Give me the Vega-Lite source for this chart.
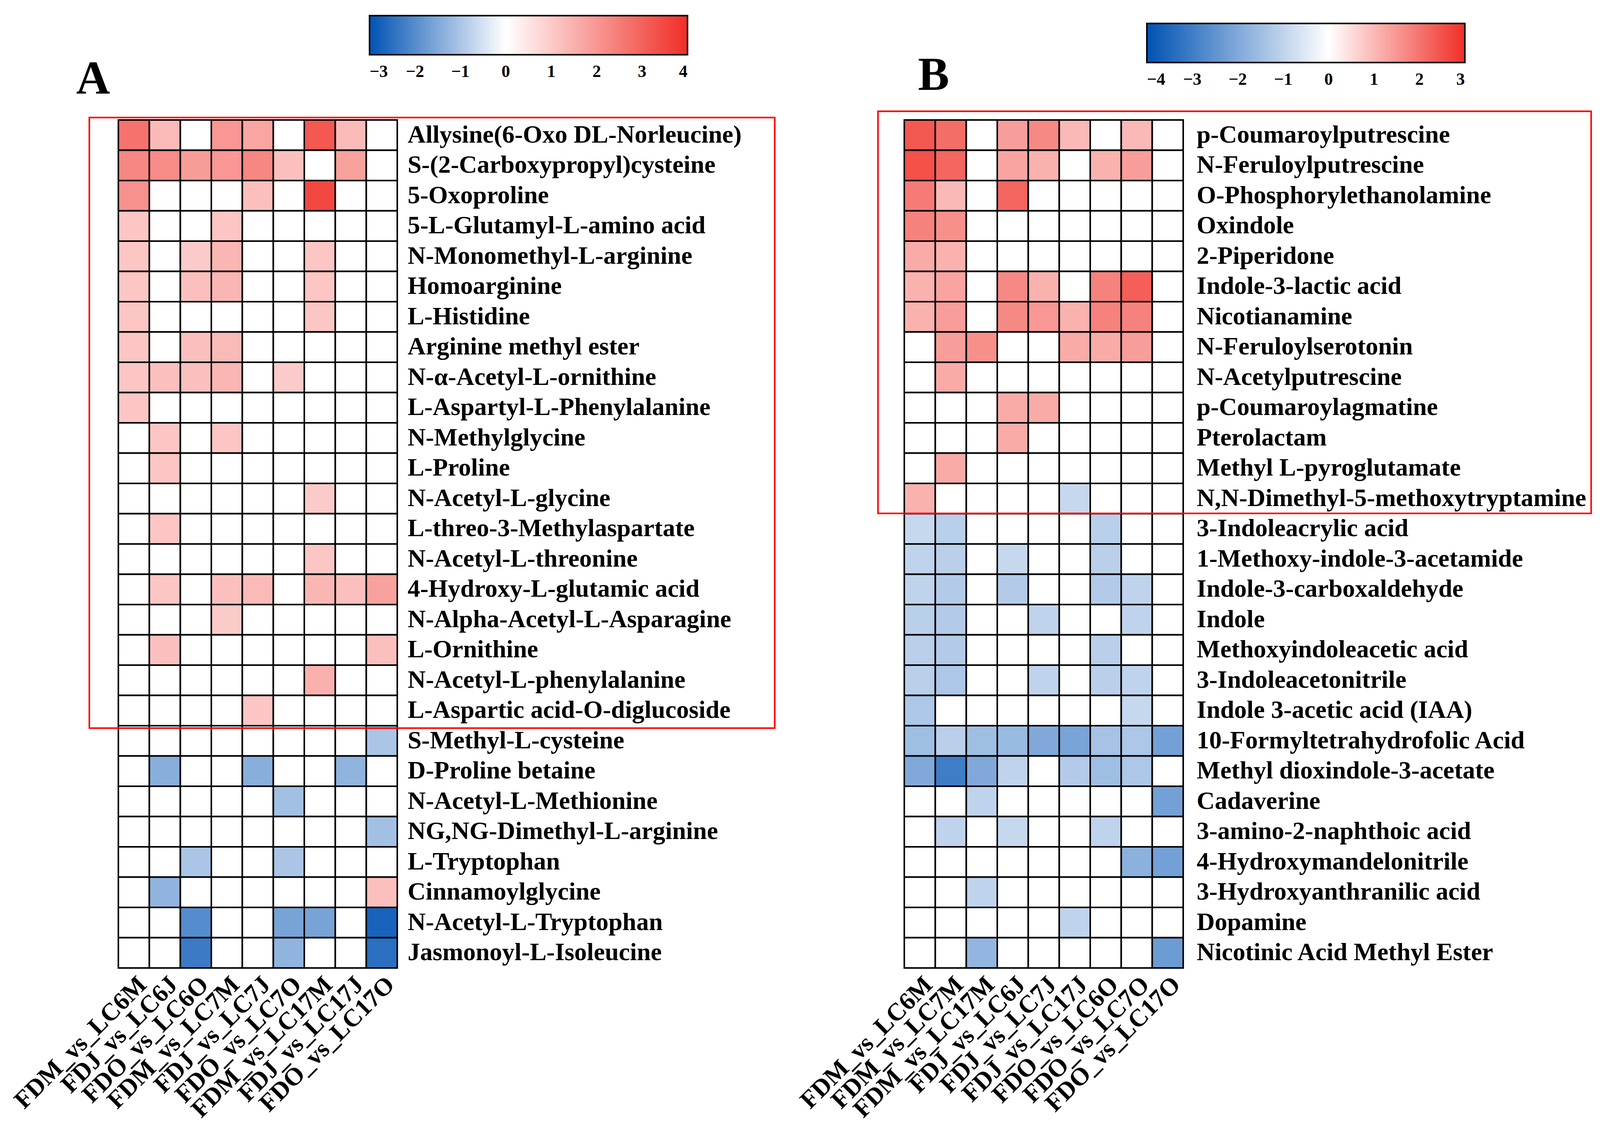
{
"$schema": "https://vega.github.io/schema/vega-lite/v6.json",
"background": "white",
"padding": {"left": 25, "top": 40, "right": 5, "bottom": 5},
"config": {"view": {"stroke": null}, "font": "Liberation Serif"},
"datasets": {
"a": [
{"m":"Allysine(6-Oxo DL-Norleucine)","c":"FDM_vs_LC6M","v":2.7},{"m":"Allysine(6-Oxo DL-Norleucine)","c":"FDJ_vs_LC6J","v":1.3},{"m":"Allysine(6-Oxo DL-Norleucine)","c":"FDO_vs_LC6O","v":0},{"m":"Allysine(6-Oxo DL-Norleucine)","c":"FDM_vs_LC7M","v":2.0},{"m":"Allysine(6-Oxo DL-Norleucine)","c":"FDJ_vs_LC7J","v":1.7},{"m":"Allysine(6-Oxo DL-Norleucine)","c":"FDO_vs_LC7O","v":0},{"m":"Allysine(6-Oxo DL-Norleucine)","c":"FDM_vs_LC17M","v":3.2},{"m":"Allysine(6-Oxo DL-Norleucine)","c":"FDJ_vs_LC17J","v":1.3},{"m":"Allysine(6-Oxo DL-Norleucine)","c":"FDO_vs_LC17O","v":0},
{"m":"S-(2-Carboxypropyl)cysteine","c":"FDM_vs_LC6M","v":2.3},{"m":"S-(2-Carboxypropyl)cysteine","c":"FDJ_vs_LC6J","v":2.2},{"m":"S-(2-Carboxypropyl)cysteine","c":"FDO_vs_LC6O","v":1.9},{"m":"S-(2-Carboxypropyl)cysteine","c":"FDM_vs_LC7M","v":2.0},{"m":"S-(2-Carboxypropyl)cysteine","c":"FDJ_vs_LC7J","v":2.3},{"m":"S-(2-Carboxypropyl)cysteine","c":"FDO_vs_LC7O","v":1.2},{"m":"S-(2-Carboxypropyl)cysteine","c":"FDM_vs_LC17M","v":0},{"m":"S-(2-Carboxypropyl)cysteine","c":"FDJ_vs_LC17J","v":1.8},{"m":"S-(2-Carboxypropyl)cysteine","c":"FDO_vs_LC17O","v":0},
{"m":"5-Oxoproline","c":"FDM_vs_LC6M","v":2.1},{"m":"5-Oxoproline","c":"FDJ_vs_LC6J","v":0},{"m":"5-Oxoproline","c":"FDO_vs_LC6O","v":0},{"m":"5-Oxoproline","c":"FDM_vs_LC7M","v":0},{"m":"5-Oxoproline","c":"FDJ_vs_LC7J","v":1.2},{"m":"5-Oxoproline","c":"FDO_vs_LC7O","v":0},{"m":"5-Oxoproline","c":"FDM_vs_LC17M","v":3.5},{"m":"5-Oxoproline","c":"FDJ_vs_LC17J","v":0},{"m":"5-Oxoproline","c":"FDO_vs_LC17O","v":0},
{"m":"5-L-Glutamyl-L-amino acid","c":"FDM_vs_LC6M","v":1.1},{"m":"5-L-Glutamyl-L-amino acid","c":"FDJ_vs_LC6J","v":0},{"m":"5-L-Glutamyl-L-amino acid","c":"FDO_vs_LC6O","v":0},{"m":"5-L-Glutamyl-L-amino acid","c":"FDM_vs_LC7M","v":1.1},{"m":"5-L-Glutamyl-L-amino acid","c":"FDJ_vs_LC7J","v":0},{"m":"5-L-Glutamyl-L-amino acid","c":"FDO_vs_LC7O","v":0},{"m":"5-L-Glutamyl-L-amino acid","c":"FDM_vs_LC17M","v":0},{"m":"5-L-Glutamyl-L-amino acid","c":"FDJ_vs_LC17J","v":0},{"m":"5-L-Glutamyl-L-amino acid","c":"FDO_vs_LC17O","v":0},
{"m":"N-Monomethyl-L-arginine","c":"FDM_vs_LC6M","v":1.1},{"m":"N-Monomethyl-L-arginine","c":"FDJ_vs_LC6J","v":0},{"m":"N-Monomethyl-L-arginine","c":"FDO_vs_LC6O","v":1.0},{"m":"N-Monomethyl-L-arginine","c":"FDM_vs_LC7M","v":1.4},{"m":"N-Monomethyl-L-arginine","c":"FDJ_vs_LC7J","v":0},{"m":"N-Monomethyl-L-arginine","c":"FDO_vs_LC7O","v":0},{"m":"N-Monomethyl-L-arginine","c":"FDM_vs_LC17M","v":1.1},{"m":"N-Monomethyl-L-arginine","c":"FDJ_vs_LC17J","v":0},{"m":"N-Monomethyl-L-arginine","c":"FDO_vs_LC17O","v":0},
{"m":"Homoarginine","c":"FDM_vs_LC6M","v":1.1},{"m":"Homoarginine","c":"FDJ_vs_LC6J","v":0},{"m":"Homoarginine","c":"FDO_vs_LC6O","v":1.2},{"m":"Homoarginine","c":"FDM_vs_LC7M","v":1.4},{"m":"Homoarginine","c":"FDJ_vs_LC7J","v":0},{"m":"Homoarginine","c":"FDO_vs_LC7O","v":0},{"m":"Homoarginine","c":"FDM_vs_LC17M","v":1.1},{"m":"Homoarginine","c":"FDJ_vs_LC17J","v":0},{"m":"Homoarginine","c":"FDO_vs_LC17O","v":0},
{"m":"L-Histidine","c":"FDM_vs_LC6M","v":1.1},{"m":"L-Histidine","c":"FDJ_vs_LC6J","v":0},{"m":"L-Histidine","c":"FDO_vs_LC6O","v":0},{"m":"L-Histidine","c":"FDM_vs_LC7M","v":0},{"m":"L-Histidine","c":"FDJ_vs_LC7J","v":0},{"m":"L-Histidine","c":"FDO_vs_LC7O","v":0},{"m":"L-Histidine","c":"FDM_vs_LC17M","v":1.1},{"m":"L-Histidine","c":"FDJ_vs_LC17J","v":0},{"m":"L-Histidine","c":"FDO_vs_LC17O","v":0},
{"m":"Arginine methyl ester","c":"FDM_vs_LC6M","v":1.1},{"m":"Arginine methyl ester","c":"FDJ_vs_LC6J","v":0},{"m":"Arginine methyl ester","c":"FDO_vs_LC6O","v":1.2},{"m":"Arginine methyl ester","c":"FDM_vs_LC7M","v":1.3},{"m":"Arginine methyl ester","c":"FDJ_vs_LC7J","v":0},{"m":"Arginine methyl ester","c":"FDO_vs_LC7O","v":0},{"m":"Arginine methyl ester","c":"FDM_vs_LC17M","v":0},{"m":"Arginine methyl ester","c":"FDJ_vs_LC17J","v":0},{"m":"Arginine methyl ester","c":"FDO_vs_LC17O","v":0},
{"m":"N-α-Acetyl-L-ornithine","c":"FDM_vs_LC6M","v":1.1},{"m":"N-α-Acetyl-L-ornithine","c":"FDJ_vs_LC6J","v":1.2},{"m":"N-α-Acetyl-L-ornithine","c":"FDO_vs_LC6O","v":1.2},{"m":"N-α-Acetyl-L-ornithine","c":"FDM_vs_LC7M","v":1.4},{"m":"N-α-Acetyl-L-ornithine","c":"FDJ_vs_LC7J","v":0},{"m":"N-α-Acetyl-L-ornithine","c":"FDO_vs_LC7O","v":1.0},{"m":"N-α-Acetyl-L-ornithine","c":"FDM_vs_LC17M","v":0},{"m":"N-α-Acetyl-L-ornithine","c":"FDJ_vs_LC17J","v":0},{"m":"N-α-Acetyl-L-ornithine","c":"FDO_vs_LC17O","v":0},
{"m":"L-Aspartyl-L-Phenylalanine","c":"FDM_vs_LC6M","v":1.1},{"m":"L-Aspartyl-L-Phenylalanine","c":"FDJ_vs_LC6J","v":0},{"m":"L-Aspartyl-L-Phenylalanine","c":"FDO_vs_LC6O","v":0},{"m":"L-Aspartyl-L-Phenylalanine","c":"FDM_vs_LC7M","v":0},{"m":"L-Aspartyl-L-Phenylalanine","c":"FDJ_vs_LC7J","v":0},{"m":"L-Aspartyl-L-Phenylalanine","c":"FDO_vs_LC7O","v":0},{"m":"L-Aspartyl-L-Phenylalanine","c":"FDM_vs_LC17M","v":0},{"m":"L-Aspartyl-L-Phenylalanine","c":"FDJ_vs_LC17J","v":0},{"m":"L-Aspartyl-L-Phenylalanine","c":"FDO_vs_LC17O","v":0},
{"m":"N-Methylglycine","c":"FDM_vs_LC6M","v":0},{"m":"N-Methylglycine","c":"FDJ_vs_LC6J","v":1.1},{"m":"N-Methylglycine","c":"FDO_vs_LC6O","v":0},{"m":"N-Methylglycine","c":"FDM_vs_LC7M","v":1.1},{"m":"N-Methylglycine","c":"FDJ_vs_LC7J","v":0},{"m":"N-Methylglycine","c":"FDO_vs_LC7O","v":0},{"m":"N-Methylglycine","c":"FDM_vs_LC17M","v":0},{"m":"N-Methylglycine","c":"FDJ_vs_LC17J","v":0},{"m":"N-Methylglycine","c":"FDO_vs_LC17O","v":0},
{"m":"L-Proline","c":"FDM_vs_LC6M","v":0},{"m":"L-Proline","c":"FDJ_vs_LC6J","v":1.1},{"m":"L-Proline","c":"FDO_vs_LC6O","v":0},{"m":"L-Proline","c":"FDM_vs_LC7M","v":0},{"m":"L-Proline","c":"FDJ_vs_LC7J","v":0},{"m":"L-Proline","c":"FDO_vs_LC7O","v":0},{"m":"L-Proline","c":"FDM_vs_LC17M","v":0},{"m":"L-Proline","c":"FDJ_vs_LC17J","v":0},{"m":"L-Proline","c":"FDO_vs_LC17O","v":0},
{"m":"N-Acetyl-L-glycine","c":"FDM_vs_LC6M","v":0},{"m":"N-Acetyl-L-glycine","c":"FDJ_vs_LC6J","v":0},{"m":"N-Acetyl-L-glycine","c":"FDO_vs_LC6O","v":0},{"m":"N-Acetyl-L-glycine","c":"FDM_vs_LC7M","v":0},{"m":"N-Acetyl-L-glycine","c":"FDJ_vs_LC7J","v":0},{"m":"N-Acetyl-L-glycine","c":"FDO_vs_LC7O","v":0},{"m":"N-Acetyl-L-glycine","c":"FDM_vs_LC17M","v":1.0},{"m":"N-Acetyl-L-glycine","c":"FDJ_vs_LC17J","v":0},{"m":"N-Acetyl-L-glycine","c":"FDO_vs_LC17O","v":0},
{"m":"L-threo-3-Methylaspartate","c":"FDM_vs_LC6M","v":0},{"m":"L-threo-3-Methylaspartate","c":"FDJ_vs_LC6J","v":1.1},{"m":"L-threo-3-Methylaspartate","c":"FDO_vs_LC6O","v":0},{"m":"L-threo-3-Methylaspartate","c":"FDM_vs_LC7M","v":0},{"m":"L-threo-3-Methylaspartate","c":"FDJ_vs_LC7J","v":0},{"m":"L-threo-3-Methylaspartate","c":"FDO_vs_LC7O","v":0},{"m":"L-threo-3-Methylaspartate","c":"FDM_vs_LC17M","v":0},{"m":"L-threo-3-Methylaspartate","c":"FDJ_vs_LC17J","v":0},{"m":"L-threo-3-Methylaspartate","c":"FDO_vs_LC17O","v":0},
{"m":"N-Acetyl-L-threonine","c":"FDM_vs_LC6M","v":0},{"m":"N-Acetyl-L-threonine","c":"FDJ_vs_LC6J","v":0},{"m":"N-Acetyl-L-threonine","c":"FDO_vs_LC6O","v":0},{"m":"N-Acetyl-L-threonine","c":"FDM_vs_LC7M","v":0},{"m":"N-Acetyl-L-threonine","c":"FDJ_vs_LC7J","v":0},{"m":"N-Acetyl-L-threonine","c":"FDO_vs_LC7O","v":0},{"m":"N-Acetyl-L-threonine","c":"FDM_vs_LC17M","v":1.1},{"m":"N-Acetyl-L-threonine","c":"FDJ_vs_LC17J","v":0},{"m":"N-Acetyl-L-threonine","c":"FDO_vs_LC17O","v":0},
{"m":"4-Hydroxy-L-glutamic acid","c":"FDM_vs_LC6M","v":0},{"m":"4-Hydroxy-L-glutamic acid","c":"FDJ_vs_LC6J","v":1.1},{"m":"4-Hydroxy-L-glutamic acid","c":"FDO_vs_LC6O","v":0},{"m":"4-Hydroxy-L-glutamic acid","c":"FDM_vs_LC7M","v":1.2},{"m":"4-Hydroxy-L-glutamic acid","c":"FDJ_vs_LC7J","v":1.3},{"m":"4-Hydroxy-L-glutamic acid","c":"FDO_vs_LC7O","v":0},{"m":"4-Hydroxy-L-glutamic acid","c":"FDM_vs_LC17M","v":1.4},{"m":"4-Hydroxy-L-glutamic acid","c":"FDJ_vs_LC17J","v":1.2},{"m":"4-Hydroxy-L-glutamic acid","c":"FDO_vs_LC17O","v":1.8},
{"m":"N-Alpha-Acetyl-L-Asparagine","c":"FDM_vs_LC6M","v":0},{"m":"N-Alpha-Acetyl-L-Asparagine","c":"FDJ_vs_LC6J","v":0},{"m":"N-Alpha-Acetyl-L-Asparagine","c":"FDO_vs_LC6O","v":0},{"m":"N-Alpha-Acetyl-L-Asparagine","c":"FDM_vs_LC7M","v":1.0},{"m":"N-Alpha-Acetyl-L-Asparagine","c":"FDJ_vs_LC7J","v":0},{"m":"N-Alpha-Acetyl-L-Asparagine","c":"FDO_vs_LC7O","v":0},{"m":"N-Alpha-Acetyl-L-Asparagine","c":"FDM_vs_LC17M","v":0},{"m":"N-Alpha-Acetyl-L-Asparagine","c":"FDJ_vs_LC17J","v":0},{"m":"N-Alpha-Acetyl-L-Asparagine","c":"FDO_vs_LC17O","v":0},
{"m":"L-Ornithine","c":"FDM_vs_LC6M","v":0},{"m":"L-Ornithine","c":"FDJ_vs_LC6J","v":1.2},{"m":"L-Ornithine","c":"FDO_vs_LC6O","v":0},{"m":"L-Ornithine","c":"FDM_vs_LC7M","v":0},{"m":"L-Ornithine","c":"FDJ_vs_LC7J","v":0},{"m":"L-Ornithine","c":"FDO_vs_LC7O","v":0},{"m":"L-Ornithine","c":"FDM_vs_LC17M","v":0},{"m":"L-Ornithine","c":"FDJ_vs_LC17J","v":0},{"m":"L-Ornithine","c":"FDO_vs_LC17O","v":1.2},
{"m":"N-Acetyl-L-phenylalanine","c":"FDM_vs_LC6M","v":0},{"m":"N-Acetyl-L-phenylalanine","c":"FDJ_vs_LC6J","v":0},{"m":"N-Acetyl-L-phenylalanine","c":"FDO_vs_LC6O","v":0},{"m":"N-Acetyl-L-phenylalanine","c":"FDM_vs_LC7M","v":0},{"m":"N-Acetyl-L-phenylalanine","c":"FDJ_vs_LC7J","v":0},{"m":"N-Acetyl-L-phenylalanine","c":"FDO_vs_LC7O","v":0},{"m":"N-Acetyl-L-phenylalanine","c":"FDM_vs_LC17M","v":1.5},{"m":"N-Acetyl-L-phenylalanine","c":"FDJ_vs_LC17J","v":0},{"m":"N-Acetyl-L-phenylalanine","c":"FDO_vs_LC17O","v":0},
{"m":"L-Aspartic acid-O-diglucoside","c":"FDM_vs_LC6M","v":0},{"m":"L-Aspartic acid-O-diglucoside","c":"FDJ_vs_LC6J","v":0},{"m":"L-Aspartic acid-O-diglucoside","c":"FDO_vs_LC6O","v":0},{"m":"L-Aspartic acid-O-diglucoside","c":"FDM_vs_LC7M","v":0},{"m":"L-Aspartic acid-O-diglucoside","c":"FDJ_vs_LC7J","v":1.1},{"m":"L-Aspartic acid-O-diglucoside","c":"FDO_vs_LC7O","v":0},{"m":"L-Aspartic acid-O-diglucoside","c":"FDM_vs_LC17M","v":0},{"m":"L-Aspartic acid-O-diglucoside","c":"FDJ_vs_LC17J","v":0},{"m":"L-Aspartic acid-O-diglucoside","c":"FDO_vs_LC17O","v":0},
{"m":"S-Methyl-L-cysteine","c":"FDM_vs_LC6M","v":0},{"m":"S-Methyl-L-cysteine","c":"FDJ_vs_LC6J","v":0},{"m":"S-Methyl-L-cysteine","c":"FDO_vs_LC6O","v":0},{"m":"S-Methyl-L-cysteine","c":"FDM_vs_LC7M","v":0},{"m":"S-Methyl-L-cysteine","c":"FDJ_vs_LC7J","v":0},{"m":"S-Methyl-L-cysteine","c":"FDO_vs_LC7O","v":0},{"m":"S-Methyl-L-cysteine","c":"FDM_vs_LC17M","v":0},{"m":"S-Methyl-L-cysteine","c":"FDJ_vs_LC17J","v":0},{"m":"S-Methyl-L-cysteine","c":"FDO_vs_LC17O","v":-1.0},
{"m":"D-Proline betaine","c":"FDM_vs_LC6M","v":0},{"m":"D-Proline betaine","c":"FDJ_vs_LC6J","v":-1.4},{"m":"D-Proline betaine","c":"FDO_vs_LC6O","v":0},{"m":"D-Proline betaine","c":"FDM_vs_LC7M","v":0},{"m":"D-Proline betaine","c":"FDJ_vs_LC7J","v":-1.4},{"m":"D-Proline betaine","c":"FDO_vs_LC7O","v":0},{"m":"D-Proline betaine","c":"FDM_vs_LC17M","v":0},{"m":"D-Proline betaine","c":"FDJ_vs_LC17J","v":-1.3},{"m":"D-Proline betaine","c":"FDO_vs_LC17O","v":0},
{"m":"N-Acetyl-L-Methionine","c":"FDM_vs_LC6M","v":0},{"m":"N-Acetyl-L-Methionine","c":"FDJ_vs_LC6J","v":0},{"m":"N-Acetyl-L-Methionine","c":"FDO_vs_LC6O","v":0},{"m":"N-Acetyl-L-Methionine","c":"FDM_vs_LC7M","v":0},{"m":"N-Acetyl-L-Methionine","c":"FDJ_vs_LC7J","v":0},{"m":"N-Acetyl-L-Methionine","c":"FDO_vs_LC7O","v":-1.1},{"m":"N-Acetyl-L-Methionine","c":"FDM_vs_LC17M","v":0},{"m":"N-Acetyl-L-Methionine","c":"FDJ_vs_LC17J","v":0},{"m":"N-Acetyl-L-Methionine","c":"FDO_vs_LC17O","v":0},
{"m":"NG,NG-Dimethyl-L-arginine","c":"FDM_vs_LC6M","v":0},{"m":"NG,NG-Dimethyl-L-arginine","c":"FDJ_vs_LC6J","v":0},{"m":"NG,NG-Dimethyl-L-arginine","c":"FDO_vs_LC6O","v":0},{"m":"NG,NG-Dimethyl-L-arginine","c":"FDM_vs_LC7M","v":0},{"m":"NG,NG-Dimethyl-L-arginine","c":"FDJ_vs_LC7J","v":0},{"m":"NG,NG-Dimethyl-L-arginine","c":"FDO_vs_LC7O","v":0},{"m":"NG,NG-Dimethyl-L-arginine","c":"FDM_vs_LC17M","v":0},{"m":"NG,NG-Dimethyl-L-arginine","c":"FDJ_vs_LC17J","v":0},{"m":"NG,NG-Dimethyl-L-arginine","c":"FDO_vs_LC17O","v":-1.1},
{"m":"L-Tryptophan","c":"FDM_vs_LC6M","v":0},{"m":"L-Tryptophan","c":"FDJ_vs_LC6J","v":0},{"m":"L-Tryptophan","c":"FDO_vs_LC6O","v":-1.0},{"m":"L-Tryptophan","c":"FDM_vs_LC7M","v":0},{"m":"L-Tryptophan","c":"FDJ_vs_LC7J","v":0},{"m":"L-Tryptophan","c":"FDO_vs_LC7O","v":-1.0},{"m":"L-Tryptophan","c":"FDM_vs_LC17M","v":0},{"m":"L-Tryptophan","c":"FDJ_vs_LC17J","v":0},{"m":"L-Tryptophan","c":"FDO_vs_LC17O","v":0},
{"m":"Cinnamoylglycine","c":"FDM_vs_LC6M","v":0},{"m":"Cinnamoylglycine","c":"FDJ_vs_LC6J","v":-1.3},{"m":"Cinnamoylglycine","c":"FDO_vs_LC6O","v":0},{"m":"Cinnamoylglycine","c":"FDM_vs_LC7M","v":0},{"m":"Cinnamoylglycine","c":"FDJ_vs_LC7J","v":0},{"m":"Cinnamoylglycine","c":"FDO_vs_LC7O","v":0},{"m":"Cinnamoylglycine","c":"FDM_vs_LC17M","v":0},{"m":"Cinnamoylglycine","c":"FDJ_vs_LC17J","v":0},{"m":"Cinnamoylglycine","c":"FDO_vs_LC17O","v":1.2},
{"m":"N-Acetyl-L-Tryptophan","c":"FDM_vs_LC6M","v":0},{"m":"N-Acetyl-L-Tryptophan","c":"FDJ_vs_LC6J","v":0},{"m":"N-Acetyl-L-Tryptophan","c":"FDO_vs_LC6O","v":-2.0},{"m":"N-Acetyl-L-Tryptophan","c":"FDM_vs_LC7M","v":0},{"m":"N-Acetyl-L-Tryptophan","c":"FDJ_vs_LC7J","v":0},{"m":"N-Acetyl-L-Tryptophan","c":"FDO_vs_LC7O","v":-1.6},{"m":"N-Acetyl-L-Tryptophan","c":"FDM_vs_LC17M","v":-1.6},{"m":"N-Acetyl-L-Tryptophan","c":"FDJ_vs_LC17J","v":0},{"m":"N-Acetyl-L-Tryptophan","c":"FDO_vs_LC17O","v":-2.7},
{"m":"Jasmonoyl-L-Isoleucine","c":"FDM_vs_LC6M","v":0},{"m":"Jasmonoyl-L-Isoleucine","c":"FDJ_vs_LC6J","v":0},{"m":"Jasmonoyl-L-Isoleucine","c":"FDO_vs_LC6O","v":-2.3},{"m":"Jasmonoyl-L-Isoleucine","c":"FDM_vs_LC7M","v":0},{"m":"Jasmonoyl-L-Isoleucine","c":"FDJ_vs_LC7J","v":0},{"m":"Jasmonoyl-L-Isoleucine","c":"FDO_vs_LC7O","v":-1.3},{"m":"Jasmonoyl-L-Isoleucine","c":"FDM_vs_LC17M","v":0},{"m":"Jasmonoyl-L-Isoleucine","c":"FDJ_vs_LC17J","v":0},{"m":"Jasmonoyl-L-Isoleucine","c":"FDO_vs_LC17O","v":-2.5}
],
"b": [
{"m":"p-Coumaroylputrescine","c":"FDM_vs_LC6M","v":2.4},{"m":"p-Coumaroylputrescine","c":"FDM_vs_LC7M","v":2.1},{"m":"p-Coumaroylputrescine","c":"FDM_vs_LC17M","v":0},{"m":"p-Coumaroylputrescine","c":"FDJ_vs_LC6J","v":1.4},{"m":"p-Coumaroylputrescine","c":"FDJ_vs_LC7J","v":1.7},{"m":"p-Coumaroylputrescine","c":"FDJ_vs_LC17J","v":1.0},{"m":"p-Coumaroylputrescine","c":"FDO_vs_LC6O","v":0},{"m":"p-Coumaroylputrescine","c":"FDO_vs_LC7O","v":1.0},{"m":"p-Coumaroylputrescine","c":"FDO_vs_LC17O","v":0},
{"m":"N-Feruloylputrescine","c":"FDM_vs_LC6M","v":2.5},{"m":"N-Feruloylputrescine","c":"FDM_vs_LC7M","v":2.2},{"m":"N-Feruloylputrescine","c":"FDM_vs_LC17M","v":0},{"m":"N-Feruloylputrescine","c":"FDJ_vs_LC6J","v":1.3},{"m":"N-Feruloylputrescine","c":"FDJ_vs_LC7J","v":1.1},{"m":"N-Feruloylputrescine","c":"FDJ_vs_LC17J","v":0},{"m":"N-Feruloylputrescine","c":"FDO_vs_LC6O","v":1.1},{"m":"N-Feruloylputrescine","c":"FDO_vs_LC7O","v":1.4},{"m":"N-Feruloylputrescine","c":"FDO_vs_LC17O","v":0},
{"m":"O-Phosphorylethanolamine","c":"FDM_vs_LC6M","v":1.9},{"m":"O-Phosphorylethanolamine","c":"FDM_vs_LC7M","v":1.0},{"m":"O-Phosphorylethanolamine","c":"FDM_vs_LC17M","v":0},{"m":"O-Phosphorylethanolamine","c":"FDJ_vs_LC6J","v":2.2},{"m":"O-Phosphorylethanolamine","c":"FDJ_vs_LC7J","v":0},{"m":"O-Phosphorylethanolamine","c":"FDJ_vs_LC17J","v":0},{"m":"O-Phosphorylethanolamine","c":"FDO_vs_LC6O","v":0},{"m":"O-Phosphorylethanolamine","c":"FDO_vs_LC7O","v":0},{"m":"O-Phosphorylethanolamine","c":"FDO_vs_LC17O","v":0},
{"m":"Oxindole","c":"FDM_vs_LC6M","v":1.8},{"m":"Oxindole","c":"FDM_vs_LC7M","v":1.6},{"m":"Oxindole","c":"FDM_vs_LC17M","v":0},{"m":"Oxindole","c":"FDJ_vs_LC6J","v":0},{"m":"Oxindole","c":"FDJ_vs_LC7J","v":0},{"m":"Oxindole","c":"FDJ_vs_LC17J","v":0},{"m":"Oxindole","c":"FDO_vs_LC6O","v":0},{"m":"Oxindole","c":"FDO_vs_LC7O","v":0},{"m":"Oxindole","c":"FDO_vs_LC17O","v":0},
{"m":"2-Piperidone","c":"FDM_vs_LC6M","v":1.2},{"m":"2-Piperidone","c":"FDM_vs_LC7M","v":1.1},{"m":"2-Piperidone","c":"FDM_vs_LC17M","v":0},{"m":"2-Piperidone","c":"FDJ_vs_LC6J","v":0},{"m":"2-Piperidone","c":"FDJ_vs_LC7J","v":0},{"m":"2-Piperidone","c":"FDJ_vs_LC17J","v":0},{"m":"2-Piperidone","c":"FDO_vs_LC6O","v":0},{"m":"2-Piperidone","c":"FDO_vs_LC7O","v":0},{"m":"2-Piperidone","c":"FDO_vs_LC17O","v":0},
{"m":"Indole-3-lactic acid","c":"FDM_vs_LC6M","v":1.1},{"m":"Indole-3-lactic acid","c":"FDM_vs_LC7M","v":1.3},{"m":"Indole-3-lactic acid","c":"FDM_vs_LC17M","v":0},{"m":"Indole-3-lactic acid","c":"FDJ_vs_LC6J","v":1.7},{"m":"Indole-3-lactic acid","c":"FDJ_vs_LC7J","v":1.1},{"m":"Indole-3-lactic acid","c":"FDJ_vs_LC17J","v":0},{"m":"Indole-3-lactic acid","c":"FDO_vs_LC6O","v":1.8},{"m":"Indole-3-lactic acid","c":"FDO_vs_LC7O","v":2.3},{"m":"Indole-3-lactic acid","c":"FDO_vs_LC17O","v":0},
{"m":"Nicotianamine","c":"FDM_vs_LC6M","v":1.1},{"m":"Nicotianamine","c":"FDM_vs_LC7M","v":1.4},{"m":"Nicotianamine","c":"FDM_vs_LC17M","v":0},{"m":"Nicotianamine","c":"FDJ_vs_LC6J","v":1.7},{"m":"Nicotianamine","c":"FDJ_vs_LC7J","v":1.5},{"m":"Nicotianamine","c":"FDJ_vs_LC17J","v":1.1},{"m":"Nicotianamine","c":"FDO_vs_LC6O","v":1.8},{"m":"Nicotianamine","c":"FDO_vs_LC7O","v":1.8},{"m":"Nicotianamine","c":"FDO_vs_LC17O","v":0},
{"m":"N-Feruloylserotonin","c":"FDM_vs_LC6M","v":0},{"m":"N-Feruloylserotonin","c":"FDM_vs_LC7M","v":1.4},{"m":"N-Feruloylserotonin","c":"FDM_vs_LC17M","v":1.6},{"m":"N-Feruloylserotonin","c":"FDJ_vs_LC6J","v":0},{"m":"N-Feruloylserotonin","c":"FDJ_vs_LC7J","v":0},{"m":"N-Feruloylserotonin","c":"FDJ_vs_LC17J","v":1.2},{"m":"N-Feruloylserotonin","c":"FDO_vs_LC6O","v":1.2},{"m":"N-Feruloylserotonin","c":"FDO_vs_LC7O","v":1.4},{"m":"N-Feruloylserotonin","c":"FDO_vs_LC17O","v":0},
{"m":"N-Acetylputrescine","c":"FDM_vs_LC6M","v":0},{"m":"N-Acetylputrescine","c":"FDM_vs_LC7M","v":1.2},{"m":"N-Acetylputrescine","c":"FDM_vs_LC17M","v":0},{"m":"N-Acetylputrescine","c":"FDJ_vs_LC6J","v":0},{"m":"N-Acetylputrescine","c":"FDJ_vs_LC7J","v":0},{"m":"N-Acetylputrescine","c":"FDJ_vs_LC17J","v":0},{"m":"N-Acetylputrescine","c":"FDO_vs_LC6O","v":0},{"m":"N-Acetylputrescine","c":"FDO_vs_LC7O","v":0},{"m":"N-Acetylputrescine","c":"FDO_vs_LC17O","v":0},
{"m":"p-Coumaroylagmatine","c":"FDM_vs_LC6M","v":0},{"m":"p-Coumaroylagmatine","c":"FDM_vs_LC7M","v":0},{"m":"p-Coumaroylagmatine","c":"FDM_vs_LC17M","v":0},{"m":"p-Coumaroylagmatine","c":"FDJ_vs_LC6J","v":1.2},{"m":"p-Coumaroylagmatine","c":"FDJ_vs_LC7J","v":1.2},{"m":"p-Coumaroylagmatine","c":"FDJ_vs_LC17J","v":0},{"m":"p-Coumaroylagmatine","c":"FDO_vs_LC6O","v":0},{"m":"p-Coumaroylagmatine","c":"FDO_vs_LC7O","v":0},{"m":"p-Coumaroylagmatine","c":"FDO_vs_LC17O","v":0},
{"m":"Pterolactam","c":"FDM_vs_LC6M","v":0},{"m":"Pterolactam","c":"FDM_vs_LC7M","v":0},{"m":"Pterolactam","c":"FDM_vs_LC17M","v":0},{"m":"Pterolactam","c":"FDJ_vs_LC6J","v":1.2},{"m":"Pterolactam","c":"FDJ_vs_LC7J","v":0},{"m":"Pterolactam","c":"FDJ_vs_LC17J","v":0},{"m":"Pterolactam","c":"FDO_vs_LC6O","v":0},{"m":"Pterolactam","c":"FDO_vs_LC7O","v":0},{"m":"Pterolactam","c":"FDO_vs_LC17O","v":0},
{"m":"Methyl L-pyroglutamate","c":"FDM_vs_LC6M","v":0},{"m":"Methyl L-pyroglutamate","c":"FDM_vs_LC7M","v":1.2},{"m":"Methyl L-pyroglutamate","c":"FDM_vs_LC17M","v":0},{"m":"Methyl L-pyroglutamate","c":"FDJ_vs_LC6J","v":0},{"m":"Methyl L-pyroglutamate","c":"FDJ_vs_LC7J","v":0},{"m":"Methyl L-pyroglutamate","c":"FDJ_vs_LC17J","v":0},{"m":"Methyl L-pyroglutamate","c":"FDO_vs_LC6O","v":0},{"m":"Methyl L-pyroglutamate","c":"FDO_vs_LC7O","v":0},{"m":"Methyl L-pyroglutamate","c":"FDO_vs_LC17O","v":0},
{"m":"N,N-Dimethyl-5-methoxytryptamine","c":"FDM_vs_LC6M","v":1.1},{"m":"N,N-Dimethyl-5-methoxytryptamine","c":"FDM_vs_LC7M","v":0},{"m":"N,N-Dimethyl-5-methoxytryptamine","c":"FDM_vs_LC17M","v":0},{"m":"N,N-Dimethyl-5-methoxytryptamine","c":"FDJ_vs_LC6J","v":0},{"m":"N,N-Dimethyl-5-methoxytryptamine","c":"FDJ_vs_LC7J","v":0},{"m":"N,N-Dimethyl-5-methoxytryptamine","c":"FDJ_vs_LC17J","v":-0.9},{"m":"N,N-Dimethyl-5-methoxytryptamine","c":"FDO_vs_LC6O","v":0},{"m":"N,N-Dimethyl-5-methoxytryptamine","c":"FDO_vs_LC7O","v":0},{"m":"N,N-Dimethyl-5-methoxytryptamine","c":"FDO_vs_LC17O","v":0},
{"m":"3-Indoleacrylic acid","c":"FDM_vs_LC6M","v":-0.9},{"m":"3-Indoleacrylic acid","c":"FDM_vs_LC7M","v":-1.1},{"m":"3-Indoleacrylic acid","c":"FDM_vs_LC17M","v":0},{"m":"3-Indoleacrylic acid","c":"FDJ_vs_LC6J","v":0},{"m":"3-Indoleacrylic acid","c":"FDJ_vs_LC7J","v":0},{"m":"3-Indoleacrylic acid","c":"FDJ_vs_LC17J","v":0},{"m":"3-Indoleacrylic acid","c":"FDO_vs_LC6O","v":-1.1},{"m":"3-Indoleacrylic acid","c":"FDO_vs_LC7O","v":0},{"m":"3-Indoleacrylic acid","c":"FDO_vs_LC17O","v":0},
{"m":"1-Methoxy-indole-3-acetamide","c":"FDM_vs_LC6M","v":-1.0},{"m":"1-Methoxy-indole-3-acetamide","c":"FDM_vs_LC7M","v":-1.1},{"m":"1-Methoxy-indole-3-acetamide","c":"FDM_vs_LC17M","v":0},{"m":"1-Methoxy-indole-3-acetamide","c":"FDJ_vs_LC6J","v":-0.9},{"m":"1-Methoxy-indole-3-acetamide","c":"FDJ_vs_LC7J","v":0},{"m":"1-Methoxy-indole-3-acetamide","c":"FDJ_vs_LC17J","v":0},{"m":"1-Methoxy-indole-3-acetamide","c":"FDO_vs_LC6O","v":-1.1},{"m":"1-Methoxy-indole-3-acetamide","c":"FDO_vs_LC7O","v":0},{"m":"1-Methoxy-indole-3-acetamide","c":"FDO_vs_LC17O","v":0},
{"m":"Indole-3-carboxaldehyde","c":"FDM_vs_LC6M","v":-1.0},{"m":"Indole-3-carboxaldehyde","c":"FDM_vs_LC7M","v":-1.2},{"m":"Indole-3-carboxaldehyde","c":"FDM_vs_LC17M","v":0},{"m":"Indole-3-carboxaldehyde","c":"FDJ_vs_LC6J","v":-1.2},{"m":"Indole-3-carboxaldehyde","c":"FDJ_vs_LC7J","v":0},{"m":"Indole-3-carboxaldehyde","c":"FDJ_vs_LC17J","v":0},{"m":"Indole-3-carboxaldehyde","c":"FDO_vs_LC6O","v":-1.2},{"m":"Indole-3-carboxaldehyde","c":"FDO_vs_LC7O","v":-1.0},{"m":"Indole-3-carboxaldehyde","c":"FDO_vs_LC17O","v":0},
{"m":"Indole","c":"FDM_vs_LC6M","v":-1.1},{"m":"Indole","c":"FDM_vs_LC7M","v":-1.2},{"m":"Indole","c":"FDM_vs_LC17M","v":0},{"m":"Indole","c":"FDJ_vs_LC6J","v":0},{"m":"Indole","c":"FDJ_vs_LC7J","v":-1.0},{"m":"Indole","c":"FDJ_vs_LC17J","v":0},{"m":"Indole","c":"FDO_vs_LC6O","v":0},{"m":"Indole","c":"FDO_vs_LC7O","v":-1.0},{"m":"Indole","c":"FDO_vs_LC17O","v":0},
{"m":"Methoxyindoleacetic acid","c":"FDM_vs_LC6M","v":-1.1},{"m":"Methoxyindoleacetic acid","c":"FDM_vs_LC7M","v":-1.2},{"m":"Methoxyindoleacetic acid","c":"FDM_vs_LC17M","v":0},{"m":"Methoxyindoleacetic acid","c":"FDJ_vs_LC6J","v":0},{"m":"Methoxyindoleacetic acid","c":"FDJ_vs_LC7J","v":0},{"m":"Methoxyindoleacetic acid","c":"FDJ_vs_LC17J","v":0},{"m":"Methoxyindoleacetic acid","c":"FDO_vs_LC6O","v":-1.1},{"m":"Methoxyindoleacetic acid","c":"FDO_vs_LC7O","v":0},{"m":"Methoxyindoleacetic acid","c":"FDO_vs_LC17O","v":0},
{"m":"3-Indoleacetonitrile","c":"FDM_vs_LC6M","v":-1.1},{"m":"3-Indoleacetonitrile","c":"FDM_vs_LC7M","v":-1.3},{"m":"3-Indoleacetonitrile","c":"FDM_vs_LC17M","v":0},{"m":"3-Indoleacetonitrile","c":"FDJ_vs_LC6J","v":0},{"m":"3-Indoleacetonitrile","c":"FDJ_vs_LC7J","v":-1.0},{"m":"3-Indoleacetonitrile","c":"FDJ_vs_LC17J","v":0},{"m":"3-Indoleacetonitrile","c":"FDO_vs_LC6O","v":-1.1},{"m":"3-Indoleacetonitrile","c":"FDO_vs_LC7O","v":-1.0},{"m":"3-Indoleacetonitrile","c":"FDO_vs_LC17O","v":0},
{"m":"Indole 3-acetic acid (IAA)","c":"FDM_vs_LC6M","v":-1.3},{"m":"Indole 3-acetic acid (IAA)","c":"FDM_vs_LC7M","v":0},{"m":"Indole 3-acetic acid (IAA)","c":"FDM_vs_LC17M","v":0},{"m":"Indole 3-acetic acid (IAA)","c":"FDJ_vs_LC6J","v":0},{"m":"Indole 3-acetic acid (IAA)","c":"FDJ_vs_LC7J","v":0},{"m":"Indole 3-acetic acid (IAA)","c":"FDJ_vs_LC17J","v":0},{"m":"Indole 3-acetic acid (IAA)","c":"FDO_vs_LC6O","v":0},{"m":"Indole 3-acetic acid (IAA)","c":"FDO_vs_LC7O","v":-0.9},{"m":"Indole 3-acetic acid (IAA)","c":"FDO_vs_LC17O","v":0},
{"m":"10-Formyltetrahydrofolic Acid","c":"FDM_vs_LC6M","v":-1.5},{"m":"10-Formyltetrahydrofolic Acid","c":"FDM_vs_LC7M","v":-1.1},{"m":"10-Formyltetrahydrofolic Acid","c":"FDM_vs_LC17M","v":-1.5},{"m":"10-Formyltetrahydrofolic Acid","c":"FDJ_vs_LC6J","v":-1.6},{"m":"10-Formyltetrahydrofolic Acid","c":"FDJ_vs_LC7J","v":-2.0},{"m":"10-Formyltetrahydrofolic Acid","c":"FDJ_vs_LC17J","v":-2.1},{"m":"10-Formyltetrahydrofolic Acid","c":"FDO_vs_LC6O","v":-1.4},{"m":"10-Formyltetrahydrofolic Acid","c":"FDO_vs_LC7O","v":-1.3},{"m":"10-Formyltetrahydrofolic Acid","c":"FDO_vs_LC17O","v":-2.2},
{"m":"Methyl dioxindole-3-acetate","c":"FDM_vs_LC6M","v":-2.0},{"m":"Methyl dioxindole-3-acetate","c":"FDM_vs_LC7M","v":-3.0},{"m":"Methyl dioxindole-3-acetate","c":"FDM_vs_LC17M","v":-2.0},{"m":"Methyl dioxindole-3-acetate","c":"FDJ_vs_LC6J","v":-1.0},{"m":"Methyl dioxindole-3-acetate","c":"FDJ_vs_LC7J","v":0},{"m":"Methyl dioxindole-3-acetate","c":"FDJ_vs_LC17J","v":-1.2},{"m":"Methyl dioxindole-3-acetate","c":"FDO_vs_LC6O","v":-1.5},{"m":"Methyl dioxindole-3-acetate","c":"FDO_vs_LC7O","v":-1.3},{"m":"Methyl dioxindole-3-acetate","c":"FDO_vs_LC17O","v":0},
{"m":"Cadaverine","c":"FDM_vs_LC6M","v":0},{"m":"Cadaverine","c":"FDM_vs_LC7M","v":0},{"m":"Cadaverine","c":"FDM_vs_LC17M","v":-1.0},{"m":"Cadaverine","c":"FDJ_vs_LC6J","v":0},{"m":"Cadaverine","c":"FDJ_vs_LC7J","v":0},{"m":"Cadaverine","c":"FDJ_vs_LC17J","v":0},{"m":"Cadaverine","c":"FDO_vs_LC6O","v":0},{"m":"Cadaverine","c":"FDO_vs_LC7O","v":0},{"m":"Cadaverine","c":"FDO_vs_LC17O","v":-2.2},
{"m":"3-amino-2-naphthoic acid","c":"FDM_vs_LC6M","v":0},{"m":"3-amino-2-naphthoic acid","c":"FDM_vs_LC7M","v":-1.0},{"m":"3-amino-2-naphthoic acid","c":"FDM_vs_LC17M","v":0},{"m":"3-amino-2-naphthoic acid","c":"FDJ_vs_LC6J","v":-0.9},{"m":"3-amino-2-naphthoic acid","c":"FDJ_vs_LC7J","v":0},{"m":"3-amino-2-naphthoic acid","c":"FDJ_vs_LC17J","v":0},{"m":"3-amino-2-naphthoic acid","c":"FDO_vs_LC6O","v":-1.0},{"m":"3-amino-2-naphthoic acid","c":"FDO_vs_LC7O","v":0},{"m":"3-amino-2-naphthoic acid","c":"FDO_vs_LC17O","v":0},
{"m":"4-Hydroxymandelonitrile","c":"FDM_vs_LC6M","v":0},{"m":"4-Hydroxymandelonitrile","c":"FDM_vs_LC7M","v":0},{"m":"4-Hydroxymandelonitrile","c":"FDM_vs_LC17M","v":0},{"m":"4-Hydroxymandelonitrile","c":"FDJ_vs_LC6J","v":0},{"m":"4-Hydroxymandelonitrile","c":"FDJ_vs_LC7J","v":0},{"m":"4-Hydroxymandelonitrile","c":"FDJ_vs_LC17J","v":0},{"m":"4-Hydroxymandelonitrile","c":"FDO_vs_LC6O","v":0},{"m":"4-Hydroxymandelonitrile","c":"FDO_vs_LC7O","v":-1.8},{"m":"4-Hydroxymandelonitrile","c":"FDO_vs_LC17O","v":-2.2},
{"m":"3-Hydroxyanthranilic acid","c":"FDM_vs_LC6M","v":0},{"m":"3-Hydroxyanthranilic acid","c":"FDM_vs_LC7M","v":0},{"m":"3-Hydroxyanthranilic acid","c":"FDM_vs_LC17M","v":-1.0},{"m":"3-Hydroxyanthranilic acid","c":"FDJ_vs_LC6J","v":0},{"m":"3-Hydroxyanthranilic acid","c":"FDJ_vs_LC7J","v":0},{"m":"3-Hydroxyanthranilic acid","c":"FDJ_vs_LC17J","v":0},{"m":"3-Hydroxyanthranilic acid","c":"FDO_vs_LC6O","v":0},{"m":"3-Hydroxyanthranilic acid","c":"FDO_vs_LC7O","v":0},{"m":"3-Hydroxyanthranilic acid","c":"FDO_vs_LC17O","v":0},
{"m":"Dopamine","c":"FDM_vs_LC6M","v":0},{"m":"Dopamine","c":"FDM_vs_LC7M","v":0},{"m":"Dopamine","c":"FDM_vs_LC17M","v":0},{"m":"Dopamine","c":"FDJ_vs_LC6J","v":0},{"m":"Dopamine","c":"FDJ_vs_LC7J","v":0},{"m":"Dopamine","c":"FDJ_vs_LC17J","v":-1.0},{"m":"Dopamine","c":"FDO_vs_LC6O","v":0},{"m":"Dopamine","c":"FDO_vs_LC7O","v":0},{"m":"Dopamine","c":"FDO_vs_LC17O","v":0},
{"m":"Nicotinic Acid Methyl Ester","c":"FDM_vs_LC6M","v":0},{"m":"Nicotinic Acid Methyl Ester","c":"FDM_vs_LC7M","v":0},{"m":"Nicotinic Acid Methyl Ester","c":"FDM_vs_LC17M","v":-1.7},{"m":"Nicotinic Acid Methyl Ester","c":"FDJ_vs_LC6J","v":0},{"m":"Nicotinic Acid Methyl Ester","c":"FDJ_vs_LC7J","v":0},{"m":"Nicotinic Acid Methyl Ester","c":"FDJ_vs_LC17J","v":0},{"m":"Nicotinic Acid Methyl Ester","c":"FDO_vs_LC6O","v":0},{"m":"Nicotinic Acid Methyl Ester","c":"FDO_vs_LC7O","v":0},{"m":"Nicotinic Acid Methyl Ester","c":"FDO_vs_LC17O","v":-2.3}
],
"boxA": [{"c1":"FDM_vs_LC6M","c2":"FDO_vs_LC17O","m1":"Allysine(6-Oxo DL-Norleucine)","m2":"L-Aspartic acid-O-diglucoside"}],
"boxB": [{"c1":"FDM_vs_LC6M","c2":"FDO_vs_LC17O","m1":"p-Coumaroylputrescine","m2":"N,N-Dimethyl-5-methoxytryptamine"}]
},
"hconcat": [
{
"width": 714, "height": 2170,
"title": {"text": "A", "anchor": "start", "frame": "group", "fontSize": 120, "font": "Liberation Serif", "fontWeight": "bold", "color": "black", "dx": -108, "offset": -224},
"layer": [
{"data": {"name": "a"},
"mark": {"type": "rect", "stroke": "black", "strokeWidth": 4},
"encoding": {
"x": {"field": "c", "type": "nominal", "scale": {"paddingInner": 0, "paddingOuter": 0, "domain": ["FDM_vs_LC6M","FDJ_vs_LC6J","FDO_vs_LC6O","FDM_vs_LC7M","FDJ_vs_LC7J","FDO_vs_LC7O","FDM_vs_LC17M","FDJ_vs_LC17J","FDO_vs_LC17O"]},
"axis": {"orient": "bottom", "labelAngle": -45, "ticks": false, "domain": false, "title": null, "labelFontSize": 64, "labelFont": "Liberation Serif", "labelFontWeight": "bold", "labelColor": "black", "labelPadding": 10, "labelLimit": 2000}},
"y": {"field": "m", "type": "nominal", "scale": {"paddingInner": 0, "paddingOuter": 0, "domain": ["Allysine(6-Oxo DL-Norleucine)","S-(2-Carboxypropyl)cysteine","5-Oxoproline","5-L-Glutamyl-L-amino acid","N-Monomethyl-L-arginine","Homoarginine","L-Histidine","Arginine methyl ester","N-α-Acetyl-L-ornithine","L-Aspartyl-L-Phenylalanine","N-Methylglycine","L-Proline","N-Acetyl-L-glycine","L-threo-3-Methylaspartate","N-Acetyl-L-threonine","4-Hydroxy-L-glutamic acid","N-Alpha-Acetyl-L-Asparagine","L-Ornithine","N-Acetyl-L-phenylalanine","L-Aspartic acid-O-diglucoside","S-Methyl-L-cysteine","D-Proline betaine","N-Acetyl-L-Methionine","NG,NG-Dimethyl-L-arginine","L-Tryptophan","Cinnamoylglycine","N-Acetyl-L-Tryptophan","Jasmonoyl-L-Isoleucine"]},
"axis": {"orient": "right", "ticks": false, "domain": false, "title": null, "labelFontSize": 64, "labelFont": "Liberation Serif", "labelFontWeight": "bold", "labelColor": "black", "labelPadding": 26, "labelLimit": 2000}},
"color": {"field": "v", "type": "quantitative", "scale": {"domain": [-3, 0, 4], "range": ["#0052b4", "#ffffff", "#f02e26"], "interpolate": "rgb"},
"legend": {"orient": "none", "legendX": 643, "legendY": -267, "direction": "horizontal", "gradientLength": 814, "gradientThickness": 100, "title": null, "values": [-3,-2,-1,0,1,2,3,4], "format": "d", "labelFontSize": 44, "labelFont": "Liberation Serif", "labelFontWeight": "bold", "labelColor": "black", "gradientStrokeColor": "black", "gradientStrokeWidth": 4, "labelOffset": 22}}
}},
{"data": {"name": "boxA"},
"mark": {"type": "rect", "filled": false, "stroke": "#ff0000", "strokeWidth": 4, "xOffset": -114, "x2Offset": 1006, "yOffset": -45, "y2Offset": 45},
"encoding": {"x": {"field": "c1", "type": "nominal", "sort": null}, "x2": {"field": "c2"}, "y": {"field": "m1", "type": "nominal", "sort": null}, "y2": {"field": "m2"}}}
]
},
{
"width": 714, "height": 2170,
"title": {"text": "B", "anchor": "start", "frame": "group", "fontSize": 120, "font": "Liberation Serif", "fontWeight": "bold", "color": "black", "dx": 35, "offset": -195},
"layer": [
{"data": {"name": "b"},
"mark": {"type": "rect", "stroke": "black", "strokeWidth": 4},
"encoding": {
"x": {"field": "c", "type": "nominal", "scale": {"paddingInner": 0, "paddingOuter": 0, "domain": ["FDM_vs_LC6M","FDM_vs_LC7M","FDM_vs_LC17M","FDJ_vs_LC6J","FDJ_vs_LC7J","FDJ_vs_LC17J","FDO_vs_LC6O","FDO_vs_LC7O","FDO_vs_LC17O"]},
"axis": {"orient": "bottom", "labelAngle": -45, "ticks": false, "domain": false, "title": null, "labelFontSize": 64, "labelFont": "Liberation Serif", "labelFontWeight": "bold", "labelColor": "black", "labelPadding": 10, "labelLimit": 2000}},
"y": {"field": "m", "type": "nominal", "scale": {"paddingInner": 0, "paddingOuter": 0, "domain": ["p-Coumaroylputrescine","N-Feruloylputrescine","O-Phosphorylethanolamine","Oxindole","2-Piperidone","Indole-3-lactic acid","Nicotianamine","N-Feruloylserotonin","N-Acetylputrescine","p-Coumaroylagmatine","Pterolactam","Methyl L-pyroglutamate","N,N-Dimethyl-5-methoxytryptamine","3-Indoleacrylic acid","1-Methoxy-indole-3-acetamide","Indole-3-carboxaldehyde","Indole","Methoxyindoleacetic acid","3-Indoleacetonitrile","Indole 3-acetic acid (IAA)","10-Formyltetrahydrofolic Acid","Methyl dioxindole-3-acetate","Cadaverine","3-amino-2-naphthoic acid","4-Hydroxymandelonitrile","3-Hydroxyanthranilic acid","Dopamine","Nicotinic Acid Methyl Ester"]},
"axis": {"orient": "right", "ticks": false, "domain": false, "title": null, "labelFontSize": 64, "labelFont": "Liberation Serif", "labelFontWeight": "bold", "labelColor": "black", "labelPadding": 34, "labelLimit": 2000}},
"color": {"field": "v", "type": "quantitative", "scale": {"domain": [-4, 0, 3], "range": ["#0052b4", "#ffffff", "#f02e26"], "interpolate": "rgb"},
"legend": {"orient": "none", "legendX": 621, "legendY": -247, "direction": "horizontal", "gradientLength": 814, "gradientThickness": 100, "title": null, "values": [-4,-3,-2,-1,0,1,2,3], "format": "d", "labelFontSize": 44, "labelFont": "Liberation Serif", "labelFontWeight": "bold", "labelColor": "black", "gradientStrokeColor": "black", "gradientStrokeWidth": 4, "labelOffset": 22}}
}},
{"data": {"name": "boxB"},
"mark": {"type": "rect", "filled": false, "stroke": "#ff0000", "strokeWidth": 4, "xOffset": -107, "x2Offset": 1084, "yOffset": -61, "y2Offset": 38},
"encoding": {"x": {"field": "c1", "type": "nominal", "sort": null}, "x2": {"field": "c2"}, "y": {"field": "m1", "type": "nominal", "sort": null}, "y2": {"field": "m2"}}}
]
}
],
"spacing": 51,
"resolve": {"scale": {"color": "independent"}, "legend": {"color": "independent"}}
}
